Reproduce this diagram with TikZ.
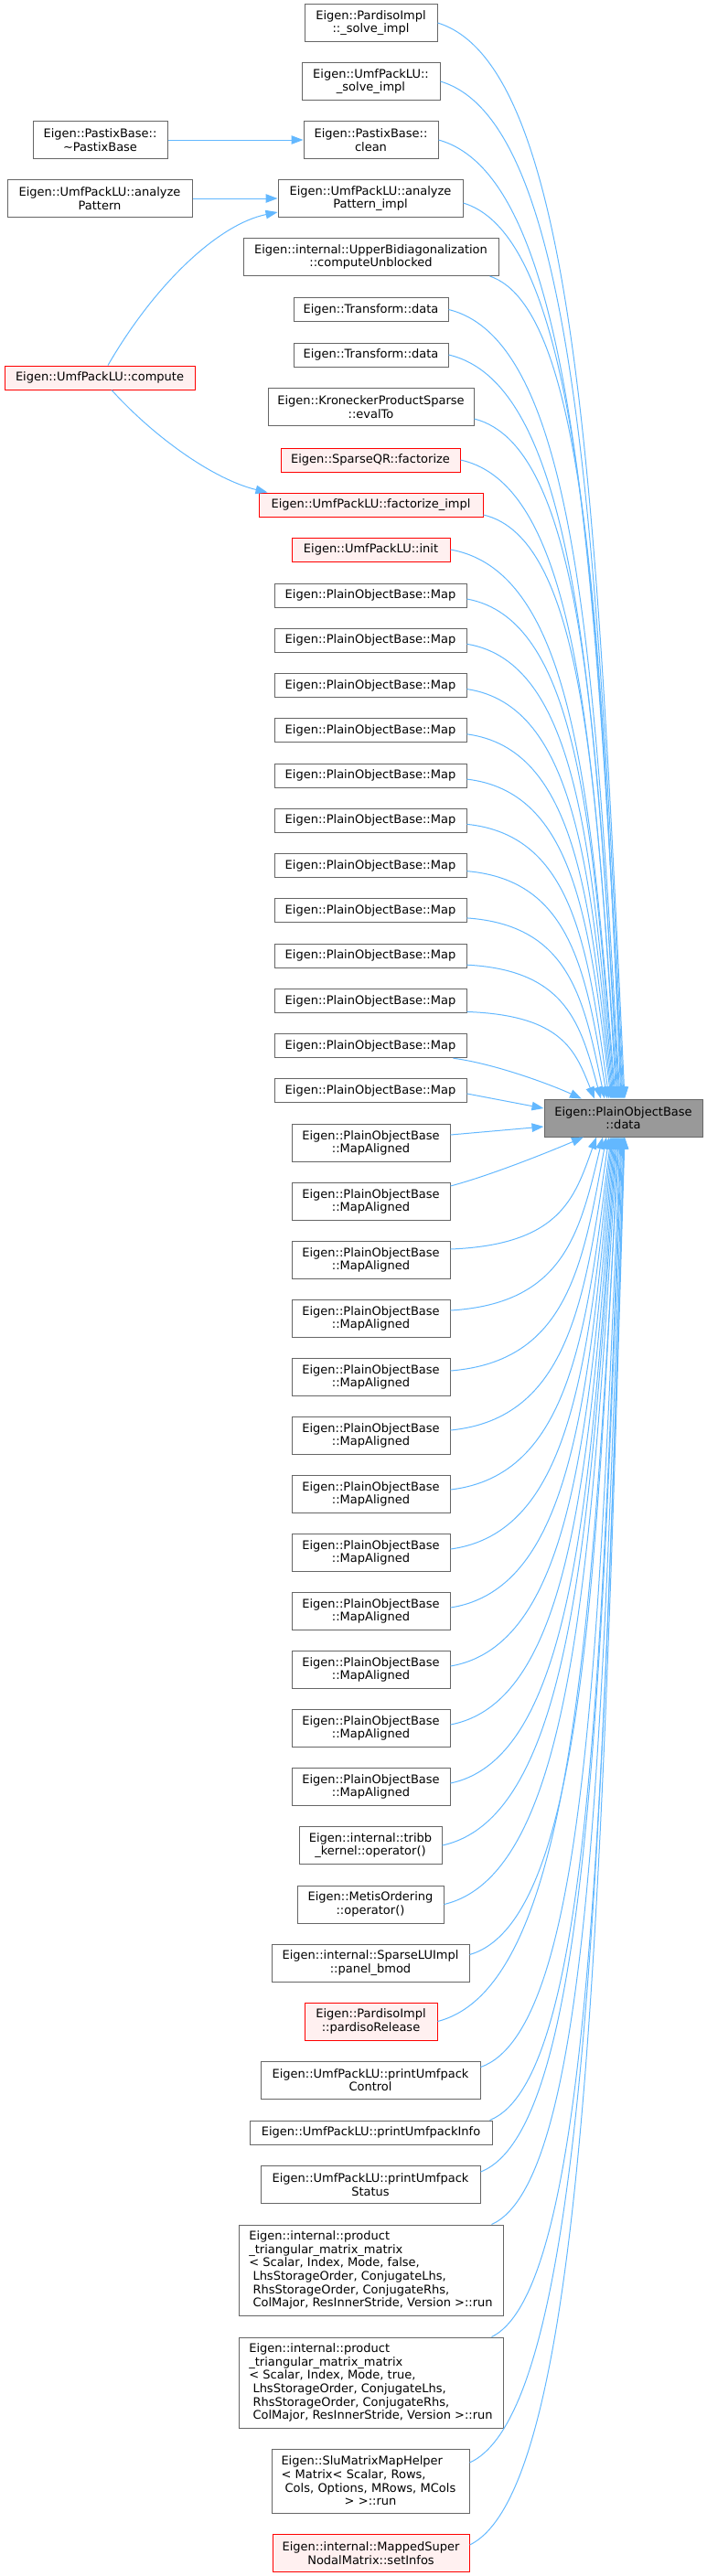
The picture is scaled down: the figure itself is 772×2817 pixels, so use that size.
\documentclass[tikz,border=0pt]{standalone}
\usepackage{fontspec}
\setmainfont{DejaVu Sans}
\usetikzlibrary{arrows.meta,calc}
\definecolor{edgec}{HTML}{63B8FF}
\definecolor{boxb}{HTML}{666666}
\definecolor{redb}{HTML}{FF0000}
\definecolor{redf}{HTML}{FFF0F0}
\definecolor{selfill}{HTML}{999999}
\begin{document}
\begin{tikzpicture}[x=1pt,y=-1pt,
  box/.style={draw=boxb, fill=white, line width=1pt, inner sep=0pt, align=center,
    font=\fontsize{13}{14.7}\selectfont, text=black, minimum height=41pt},
  redbox/.style={box, draw=redb, fill=redf},
  selbox/.style={box, fill=selfill},
  edge/.style={draw=edgec, line width=1pt, -{Triangle[length=13pt,width=9.5pt]}},
  fan/.style={to path={let \p1=(\tikztostart), \p2=(\tikztotarget) in
    .. controls ($(\p1)+({0.75*(\x2-\x1)},{0.04*(\y2-\y1)})$)
    and ($(\p2)+({-0.15*(\x2-\x1)},{-0.55*(\y2-\y1)})$) .. (\p2) \tikztonodes}}]
\useasboundingbox (0,0) rectangle (772,2817);

% ---------- nodes ----------
\node[box, minimum width=145pt] (ps) at (405.5,25) {Eigen::PardisoImpl\\::\_solve\_impl};
\node[box, minimum width=151pt] (us) at (405.5,89) {Eigen::UmfPackLU::\\\_solve\_impl};
\node[box, minimum width=147pt] (pc) at (405.5,153) {Eigen::PastixBase::\\clean};
\node[box, minimum width=147pt] (pd) at (109.5,153) {Eigen::PastixBase::\\\textasciitilde PastixBase};
\node[box, minimum width=202pt] (api) at (405,217) {Eigen::UmfPackLU::analyze\\Pattern\_impl};
\node[box, minimum width=202pt] (ap) at (109,217) {Eigen::UmfPackLU::analyze\\Pattern};
\node[box, minimum width=279pt] (ub) at (405.5,281) {Eigen::internal::UpperBidiagonalization\\::computeUnblocked};
\node[box, minimum width=169pt, minimum height=26pt] (t1) at (405.5,338.5) {Eigen::Transform::data};
\node[box, minimum width=169pt, minimum height=26pt] (t2) at (405.5,388) {Eigen::Transform::data};
\node[redbox, minimum width=208pt, minimum height=26pt] (cmp) at (109,413) {Eigen::UmfPackLU::compute};
\node[box, minimum width=225pt] (kr) at (405.5,445) {Eigen::KroneckerProductSparse\\::evalTo};
\node[redbox, minimum width=196pt, minimum height=26pt] (qr) at (405,503) {Eigen::SparseQR::factorize};
\node[redbox, minimum width=245pt, minimum height=26pt] (fi) at (405.5,552) {Eigen::UmfPackLU::factorize\_impl};
\node[redbox, minimum width=173pt, minimum height=26pt] (ini) at (405.5,601) {Eigen::UmfPackLU::init};
\foreach \i in {1,...,12}
  \node[box, minimum width=210pt, minimum height=26pt] (m\i) at (405,{651+(\i-1)*49.27}) {Eigen::PlainObjectBase::Map};
\node[selbox, minimum width=173pt] (pob) at (681.5,1222.5) {Eigen::PlainObjectBase\\::data};
\foreach \i in {1,...,12}
  \node[box, minimum width=173pt] (a\i) at (405.5,{1250+(\i-1)*64}) {Eigen::PlainObjectBase\\::MapAligned};
\node[box, minimum width=156pt] (tr) at (405,2018) {Eigen::internal::tribb\\\_kernel::operator()};
\node[box, minimum width=160pt] (me) at (405,2082.5) {Eigen::MetisOrdering\\::operator()};
\node[box, minimum width=216pt] (lu) at (405,2146.5) {Eigen::internal::SparseLUImpl\\::panel\_bmod};
\node[redbox, minimum width=145pt] (pr) at (405.5,2210.5) {Eigen::PardisoImpl\\::pardisoRelease};
\node[box, minimum width=240pt] (pcc) at (405,2274.5) {Eigen::UmfPackLU::printUmfpack\\Control};
\node[box, minimum width=265pt, minimum height=26pt] (pin) at (405.5,2332) {Eigen::UmfPackLU::printUmfpackInfo};
\node[box, minimum width=240pt] (pst) at (405,2389) {Eigen::UmfPackLU::printUmfpack\\Status};
\node[box, align=left, minimum width=289pt, minimum height=99pt] (p1) at (405.5,2482.5)
  {Eigen::internal::product\\\_triangular\_matrix\_matrix\\< Scalar, Index, Mode, false,\\\hspace*{0.318em}LhsStorageOrder, ConjugateLhs,\\\hspace*{0.318em}RhsStorageOrder, ConjugateRhs,\\\hspace*{0.318em}ColMajor, ResInnerStride, Version >::run};
\node[box, align=left, minimum width=289pt, minimum height=99pt] (p2) at (405.5,2605.5)
  {Eigen::internal::product\\\_triangular\_matrix\_matrix\\< Scalar, Index, Mode, true,\\\hspace*{0.318em}LhsStorageOrder, ConjugateLhs,\\\hspace*{0.318em}RhsStorageOrder, ConjugateRhs,\\\hspace*{0.318em}ColMajor, ResInnerStride, Version >::run};
\node[box, align=left, text width=195pt, minimum width=216pt, minimum height=70pt] (slu) at (405,2713)
  {Eigen::SluMatrixMapHelper\\< Matrix< Scalar, Rows,\\\hspace*{0.318em}Cols, Options, MRows, MCols\\\makebox[\linewidth][c]{> >::run}};
\node[redbox, minimum width=215pt] (msn) at (405.5,2792) {Eigen::internal::MappedSuper\\NodalMatrix::setInfos};

% ---------- side connectors ----------
\draw[edge] (pd) -- (pc);
\draw[edge] (ap) -- (api);
\draw[edge] ([xshift=9pt]cmp.north) .. controls +(52,-90) and +(-64,13) .. ([yshift=-15pt]api.west);
\draw[edge] ([xshift=13pt]cmp.south) .. controls +(48,53) and +(-58,-14) .. ([xshift=10pt]fi.north west);

% ---------- connectors into data from above ----------
\draw[edge] (ps.east) to[fan] ([xshift=1.5pt]pob.north);
\draw[edge] (us.east) to[fan] ([xshift=0.5pt]pob.north);
\draw[edge] (pc.east) to[fan] ([xshift=-0.5pt]pob.north);
\draw[edge] ([yshift=-5pt]api.east) to[fan] ([xshift=-1.5pt]pob.north);
\draw[edge] ([xshift=-10pt]ub.south east) to[fan] ([xshift=-2.5pt]pob.north);
\draw[edge] (t1.east) to[fan] ([xshift=-3.5pt]pob.north);
\draw[edge] (t2.east) to[fan] ([xshift=-4.5pt]pob.north);
\draw[edge] ([yshift=-13pt]kr.east) to[fan] ([xshift=-5.5pt]pob.north);
\draw[edge] (qr.east) to[fan] ([xshift=-6.5pt]pob.north);
\draw[edge] ([yshift=-11pt]fi.east) to[fan] ([xshift=-7.5pt]pob.north);
\draw[edge] (ini.east) to[fan] ([xshift=-8.5pt]pob.north);
\foreach \i/\s/\e in {1/-4pt/-9.5pt, 2/-4pt/-10.5pt, 3/-4pt/-11.5pt, 4/-4pt/-12.5pt,
    5/-4pt/-13.5pt, 6/-4pt/-15.5pt, 7/-6pt/-17.5pt, 8/-8pt/-20.5pt, 9/-10pt/-24.5pt, 10/-12pt/-31.5pt}
  \draw[edge] ([yshift=\s]m\i.east) to[fan] ([xshift=\e]pob.north);
\draw[edge] ([xshift=-15pt]m11.south east) .. controls +(45,6) and +(-35,-16) .. ([xshift=-45.5pt]pob.north);
\draw[edge] ([yshift=-3pt]m12.east) -- ([yshift=10.5pt]pob.west);

% ---------- connectors into data from below ----------
\draw[edge] ([yshift=9pt]a1.east) -- ([yshift=-9.5pt]pob.west);
\draw[edge] ([yshift=17pt]a2.east) .. controls +(45,-12) and +(-35,15) .. ([xshift=-43.5pt]pob.south);
\foreach \i/\s/\e in {3/12pt/-29.5pt, 4/9pt/-22.5pt, 5/7pt/-18.5pt, 6/6pt/-15.5pt, 7/5pt/-13.5pt,
    8/4pt/-12.5pt, 9/4pt/-11.5pt, 10/4pt/-10.5pt, 11/4pt/-9.5pt, 12/4pt/-8.5pt}
  \draw[edge] ([yshift=\s]a\i.east) to[fan] ([xshift=\e]pob.south);
\draw[edge] (tr.east) to[fan] ([xshift=-7.5pt]pob.south);
\draw[edge] (me.east) to[fan] ([xshift=-6.5pt]pob.south);
\draw[edge] ([yshift=9pt]lu.east) to[fan] ([xshift=-5.5pt]pob.south);
\draw[edge] (pr.east) to[fan] ([xshift=-4.5pt]pob.south);
\draw[edge] ([yshift=14pt]pcc.east) to[fan] ([xshift=-3.5pt]pob.south);
\draw[edge] ([xshift=-3pt]pin.north east) to[fan] ([xshift=-2.5pt]pob.south);
\draw[edge] ([yshift=14pt]pst.east) to[fan] ([xshift=-1.5pt]pob.south);
\draw[edge] ([xshift=-13pt]p1.north east) to[fan] ([xshift=-0.5pt]pob.south);
\draw[edge] ([xshift=-13pt]p2.north east) to[fan] ([xshift=0.5pt]pob.south);
\draw[edge] ([yshift=20pt]slu.east) to[fan] ([xshift=1pt]pob.south);
\draw[edge] ([yshift=9pt]msn.east) to[fan] ([xshift=1.5pt]pob.south);
\end{tikzpicture}
\end{document}
